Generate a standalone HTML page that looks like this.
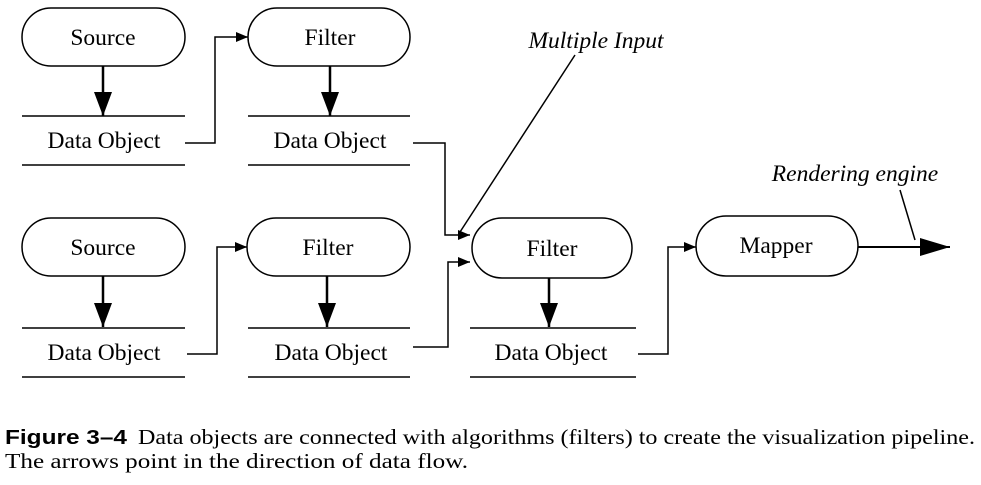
<!DOCTYPE html>
<html><head><meta charset="utf-8"><style>
body{margin:0;background:#fff;width:981px;height:480px;overflow:hidden}
svg text{font-family:"Liberation Serif",serif;font-size:23.5px;fill:#000}
.it{font-style:italic}
svg text.cap{font-family:"Liberation Serif",serif;font-size:21px}
svg text.fig{font-family:"Liberation Sans",sans-serif;font-weight:bold;font-size:20px}
</style></head><body>
<svg width="981" height="480" viewBox="0 0 981 480">
<defs>
<marker id="ah" markerWidth="12" markerHeight="10" refX="12" refY="5" orient="auto" markerUnits="userSpaceOnUse"><path d="M0,0 L12,5 L0,10 z" fill="#000"/></marker>
<marker id="big" markerWidth="30" markerHeight="18" refX="30" refY="9" orient="auto" markerUnits="userSpaceOnUse"><path d="M0,0 L30,9 L0,18 z" fill="#000"/></marker>
</defs>
<g stroke="#000" stroke-width="1.5" fill="none">
<rect x="22" y="8" width="163" height="58" rx="29"/>
<rect x="248" y="8" width="162" height="58" rx="29"/>
<rect x="22" y="218" width="163" height="58" rx="29"/>
<rect x="247" y="218" width="163" height="58" rx="29"/>
<rect x="472" y="218" width="160" height="60" rx="30"/>
<rect x="696" y="216" width="162" height="60" rx="30"/>
<path d="M22 116H185M22 165H185M248 116H410M248 165H410M22 328H185M22 377H185M248 328H410M248 377H410M470 328H636M470 377H636"/>
<path d="M103 66V116M330 66V116M103 276V327M327 276V327M549 278V327" stroke-width="2.5"/>
</g>
<g fill="#000">
<path d="M94 92L103 116L112 92z"/><path d="M321 92L330 116L339 92z"/>
<path d="M94 303L103 327L112 303z"/><path d="M318 303L327 327L336 303z"/><path d="M540 303L549 327L558 303z"/>
</g>
<g stroke="#000" stroke-width="1.5" fill="none">
<path d="M185 143H215V37H248" marker-end="url(#ah)"/>
<path d="M413 143H445V235H470" marker-end="url(#ah)"/>
<path d="M187 354H217V247H247" marker-end="url(#ah)"/>
<path d="M413 347H448V262H470" marker-end="url(#ah)"/>
<path d="M638 354H668V247H696" marker-end="url(#ah)"/>
<path d="M858 247H950" stroke-width="2" marker-end="url(#big)"/>
<path d="M575 55L460 232"/>
<path d="M900 190L915 240"/>
</g>
<text x="103" y="45" text-anchor="middle">Source</text>
<text x="330" y="45" text-anchor="middle">Filter</text>
<text x="103" y="255" text-anchor="middle">Source</text>
<text x="328" y="255" text-anchor="middle">Filter</text>
<text x="552" y="256" text-anchor="middle">Filter</text>
<text x="776" y="253" text-anchor="middle">Mapper</text>
<text x="104" y="148" text-anchor="middle">Data Object</text>
<text x="330" y="148" text-anchor="middle">Data Object</text>
<text x="104" y="360" text-anchor="middle">Data Object</text>
<text x="331" y="360" text-anchor="middle">Data Object</text>
<text x="551" y="360" text-anchor="middle">Data Object</text>
<text class="it" x="596" y="48" text-anchor="middle">Multiple Input</text>
<text class="it" x="855" y="181" text-anchor="middle">Rendering engine</text>
<text class="fig" x="5" y="444" textLength="122" lengthAdjust="spacingAndGlyphs">Figure 3–4</text>
<text class="cap" x="138" y="444" textLength="837" lengthAdjust="spacingAndGlyphs">Data objects are connected with algorithms (filters) to create the visualization pipeline.</text>
<text class="cap" x="5" y="468" textLength="463" lengthAdjust="spacingAndGlyphs">The arrows point in the direction of data flow.</text>
</svg>
</body></html>
